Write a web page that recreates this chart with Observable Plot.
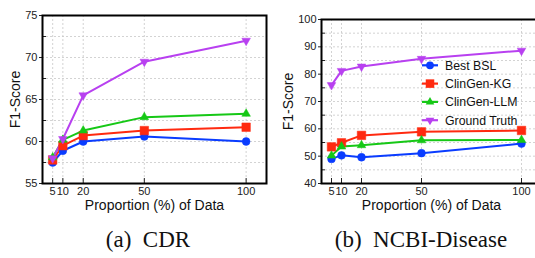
<!DOCTYPE html>
<html><head><meta charset="utf-8">
<script src="https://cdn.jsdelivr.net/npm/d3@7"></script>
<script src="https://cdn.jsdelivr.net/npm/@observablehq/plot@0.6"></script>
<style>
body{margin:0;background:#fff;}
#wrap{position:relative;width:535px;height:258px;overflow:hidden;background:#fff;}
.panel{position:absolute;top:0;}
.cap{position:absolute;font-family:"Liberation Serif","Times New Roman",serif;font-size:23px;line-height:23px;color:#111;white-space:pre;transform:translateX(-50%);}
#legend{position:absolute;left:0;top:0;}
</style></head><body><div id="wrap"></div>
<script>
// ---- data ----
const proportions = [5, 10, 20, 50, 100];
const seriesNames = ["Best BSL", "ClinGen-KG", "ClinGen-LLM", "Ground Truth"];
const cdrBestBSL     = [57.5, 58.9, 60.0, 60.6, 60.0];
const cdrClinGenKG   = [57.8, 59.5, 60.7, 61.3, 61.7];
const cdrClinGenLLM  = [58.1, 60.2, 61.3, 62.9, 63.3];
const cdrGroundTruth = [58.0, 60.3, 65.5, 69.5, 72.0];
const ncbiBestBSL     = [49.0, 50.3, 49.6, 51.1, 54.6];
const ncbiClinGenKG   = [53.4, 54.9, 57.6, 58.9, 59.4];
const ncbiClinGenLLM  = [50.2, 53.5, 54.0, 55.8, 55.9];
const ncbiGroundTruth = [76.0, 81.2, 82.8, 85.6, 88.6];
const cdrYTicks = [55, 60, 65, 70, 75];
const cdrYMinor = [57.5, 62.5, 67.5, 72.5];
const ncbiYTicks = [40, 50, 60, 70, 80, 90, 100];
const ncbiYMinor = [45, 55, 65, 75, 85, 95];
const xLabel = "Proportion (%) of Data";
const yLabel = "F1-Score";
const captions = ["(a)  CDR", "(b)  NCBI-Disease"];

// ---- styles ----
const colors = ["#0a3cff", "#ff2a10", "#16c816", "#b840f0"];
const triangleDown = {
  draw(ctx, size) {
    const y = -Math.sqrt(size / (Math.sqrt(3) * 3));
    const s3 = Math.sqrt(3);
    ctx.moveTo(0, -y * 2);
    ctx.lineTo(-s3 * y, y);
    ctx.lineTo(s3 * y, y);
    ctx.closePath();
  }
};
const symbols = ["circle", "square", "triangle", triangleDown];
const radii = [3.9, 4.8, 3.2, 3.2];

function makePanel(seriesArrays, cfg) {
  const data = [];
  seriesArrays.forEach((arr, i) => arr.forEach((v, j) => data.push({x: proportions[j], y: v, s: seriesNames[i]})));
  const marks = [
    Plot.gridY([...cfg.yTicks, ...cfg.yMinor], {stroke: "#c8c8c8", strokeOpacity: 1, strokeDasharray: "2,2", strokeWidth: 0.8}),
    Plot.gridX(proportions, {stroke: "#c8c8c8", strokeOpacity: 1, strokeDasharray: "2,2", strokeWidth: 0.8}),
  ];
  seriesNames.forEach((name, i) => {
    const d = data.filter(e => e.s === name);
    marks.push(Plot.line(d, {x: "x", y: "y", stroke: colors[i], strokeWidth: 2}));
  });
  seriesNames.forEach((name, i) => {
    const d = data.filter(e => e.s === name);
    marks.push(Plot.dot(d, {x: "x", y: "y", fill: colors[i], stroke: colors[i], strokeWidth: 0.5, symbol: symbols[i], r: radii[i]}));
  });
  marks.push(
    Plot.axisY(cfg.yTicks, {anchor: "left", tickSize: 3, tickPadding: 2, label: null, fontSize: 11}),
    Plot.axisY(cfg.yMinor, {anchor: "left", tickSize: 4, dx: 4, tickFormat: () => "", label: null}),
    Plot.axisX(proportions, {anchor: "bottom", tickSize: 5, dy: -5, tickFormat: () => "", label: null}),
    Plot.axisX(proportions, {anchor: "bottom", tickSize: 0, tickPadding: 4, label: null, fontSize: 11}),
    Plot.frame({stroke: "#000", strokeWidth: 2}),
    Plot.text([xLabel], {frameAnchor: "bottom", dy: 22, lineAnchor: "middle", fontSize: 14, fill: "#111", textAnchor: "middle"}),
    Plot.text([yLabel], {frameAnchor: "left", dx: cfg.yLabelDx, lineAnchor: "middle", rotate: -90, fontSize: 14, fill: "#111", textAnchor: "middle"})
  );
  return Plot.plot({
    width: cfg.width, height: cfg.height,
    marginLeft: cfg.ml, marginRight: cfg.mr, marginTop: cfg.mt, marginBottom: cfg.mb,
    x: {domain: [0, 110]},
    y: {domain: cfg.yDomain},
    style: {fontFamily: "'Liberation Sans', Arial, sans-serif", fontSize: "11px", color: "#222", background: "transparent", overflow: "visible"},
    marks
  });
}

const wrap = document.getElementById("wrap");
const left = makePanel([cdrBestBSL, cdrClinGenKG, cdrClinGenLLM, cdrGroundTruth],
  {yDomain: [55, 75], yTicks: cdrYTicks, yMinor: cdrYMinor, width: 275, height: 215, ml: 42, mr: 9, mt: 15, mb: 32, yLabelDx: -27});
left.classList.add("panel"); left.style.left = "0px";
wrap.appendChild(left);
const right = makePanel([ncbiBestBSL, ncbiClinGenKG, ncbiClinGenLLM, ncbiGroundTruth],
  {yDomain: [40, 100], yTicks: ncbiYTicks, yMinor: ncbiYMinor, width: 280, height: 215, ml: 51, mr: 9, mt: 19, mb: 32, yLabelDx: -33});
right.classList.add("panel"); right.style.left = "270px";
wrap.appendChild(right);

// legend (inside right panel)
const lg = d3.select(wrap).append("svg").attr("id", "legend").attr("width", 535).attr("height", 258);
seriesNames.forEach((name, i) => {
  const y = 65.3 + i * 18.3;
  const g = lg.append("g");
  g.append("line").attr("x1", 422).attr("x2", 438).attr("y1", y).attr("y2", y).attr("stroke", colors[i]).attr("stroke-width", 2.2);
  const sym = symbols[i] === "circle" ? d3.symbolCircle : symbols[i] === "square" ? d3.symbolSquare : symbols[i] === "triangle" ? d3.symbolTriangle : triangleDown;
  g.append("path").attr("d", d3.symbol(sym, Math.PI * radii[i] * radii[i])()).attr("transform", `translate(430,${y})`).attr("fill", colors[i]);
  g.append("text").attr("x", 445).attr("y", y).attr("dy", "0.35em").attr("font-family", "'Liberation Sans', Arial, sans-serif").attr("font-size", 12.3).attr("fill", "#111").text(name);
});

// captions
[[148, captions[0]], [421, captions[1]]].forEach(([cx, t]) => {
  const d = document.createElement("div");
  d.className = "cap"; d.style.left = cx + "px"; d.style.top = "228px"; d.textContent = t;
  wrap.appendChild(d);
});
</script></body></html>
